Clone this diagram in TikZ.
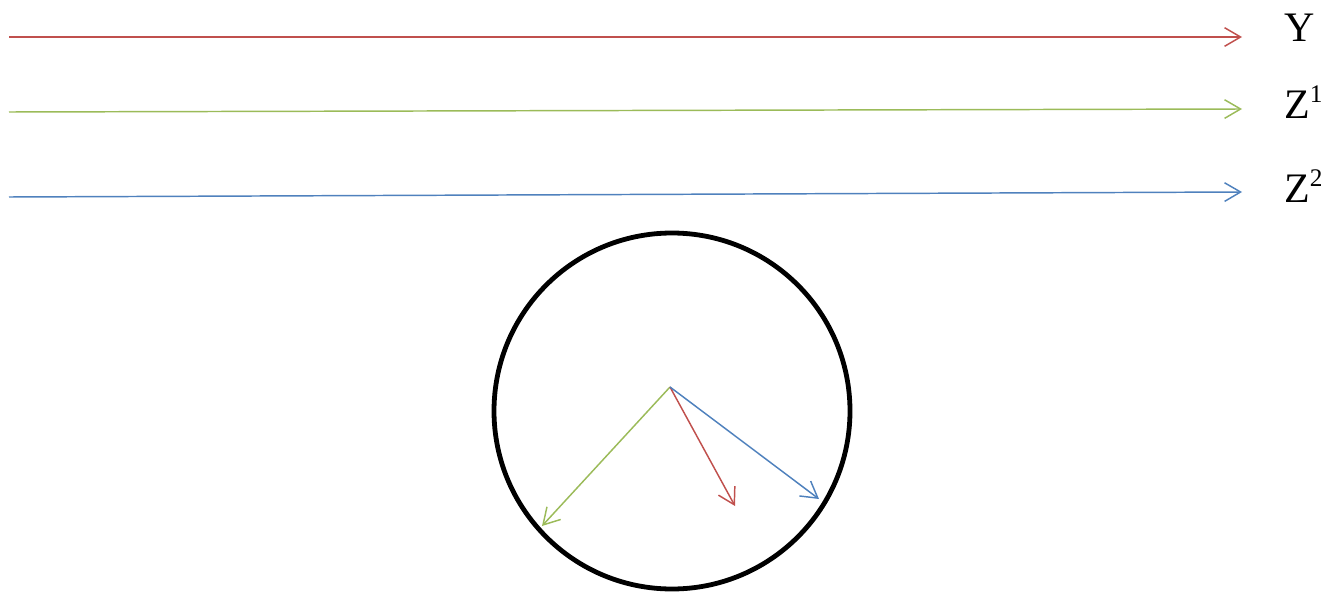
\documentclass[tikz,border=0pt]{standalone}
\usepackage{fontspec}
\setmainfont{Liberation Serif}
\usetikzlibrary{arrows.meta}
\definecolor{cred}{HTML}{C0504D}
\definecolor{cgreen}{HTML}{9BBB59}
\definecolor{cblue}{HTML}{4F81BD}
\newcommand{\supnum}[1]{\raisebox{0.36em}{\fontsize{19}{19}\selectfont #1}}
\begin{document}
\begin{tikzpicture}[x=0.75pt,y=-0.75pt,
  vec/.style={line width=1.1pt,-{Straight Barb[length=12pt,width=14pt,line width=1.1pt]}},
  lab/.style={anchor=base west,inner sep=0pt,font=\fontsize{31.5}{36}\selectfont},
  ring/.style={draw=black,line width=3.6pt}]
\useasboundingbox (0,0) rectangle (1321,592);
% horizontal axes
\coordinate (ys) at (9,37);
\coordinate (ye) at (1242,37);
\coordinate (z1s) at (9,112);
\coordinate (z1e) at (1242,109);
\coordinate (z2s) at (9,197);
\coordinate (z2e) at (1242,192);
\draw[vec,cred] (ys) -- (ye);
\draw[vec,cgreen] (z1s) -- (z1e);
\draw[vec,cblue] (z2s) -- (z2e);
\node[lab] (ly) at (1284,42) {Y};
\node[lab] (lz1) at (1284,118) {Z\supnum{1}};
\node[lab] (lz2) at (1284,202) {Z\supnum{2}};
% circle
\node[ring,circle,minimum size=267pt,inner sep=0pt] (c) at (672,411) {};
\coordinate (o) at (670,387);
\coordinate (tg) at (542,526);
\coordinate (tr) at (735,506);
\coordinate (tb) at (819,499);
\draw[vec,cgreen] (o) -- (tg);
\draw[vec,cred] (o) -- (tr);
\draw[vec,cblue] (o) -- (tb);
\end{tikzpicture}
\end{document}
